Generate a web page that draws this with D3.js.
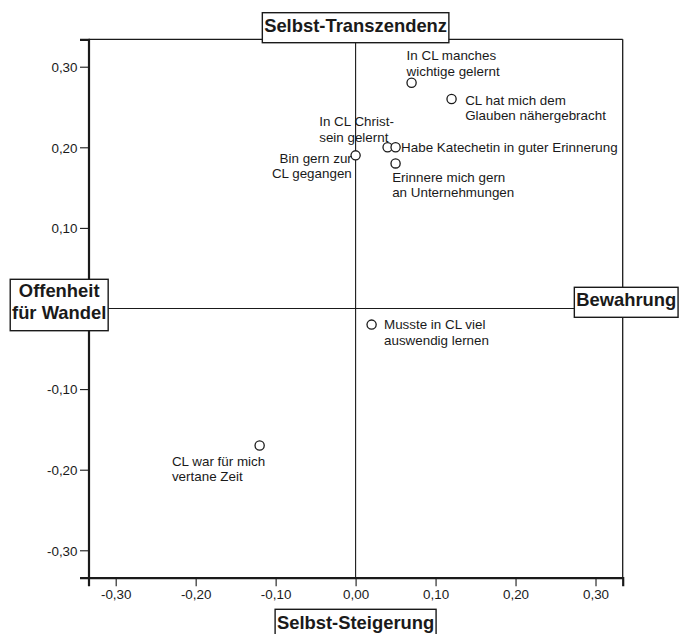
<!DOCTYPE html>
<html><head><meta charset="utf-8">
<script src="https://cdn.jsdelivr.net/npm/d3@7"></script>
<style>body{margin:0;background:#fff}svg{display:block}text{font-family:"Liberation Sans",Arial,sans-serif;fill:#1a1a1a}</style>
</head><body><svg id="c" width="679" height="634"></svg>
<script>
// ---- data ----
const itemLabels = [
  "In CL manches\nwichtige gelernt",
  "CL hat mich dem\nGlauben nähergebracht",
  "In CL Christ-\nsein gelernt",
  "Habe Katechetin in guter Erinnerung",
  "Bin gern zur\nCL gegangen",
  "Erinnere mich gern\nan Unternehmungen",
  "Musste in CL viel\nauswendig lernen",
  "CL war für mich\nvertane Zeit"
];
const xValues = [0.07, 0.12, 0.04, 0.05, 0.00, 0.05, 0.02, -0.12];
const yValues = [0.28, 0.26, 0.20, 0.20, 0.19, 0.18, -0.02, -0.17];
const tickValues = [-0.30, -0.20, -0.10, 0.00, 0.10, 0.20, 0.30];
const tickLabels = ["-0,30", "-0,20", "-0,10", "0,00", "0,10", "0,20", "0,30"];
// y tick at 0 is hidden behind the "Offenheit für Wandel" box in the original
const yTickValues = [-0.30, -0.20, -0.10, 0.10, 0.20, 0.30];
const poleTop = "Selbst-Transzendenz";
const poleBottom = "Selbst-Steigerung";
const poleLeft = ["Offenheit", "für Wandel"];
const poleRight = "Bewahrung";

// ---- layout (label placement relative to point) ----
const labelLayout = [
  {dx:-5, dy:-22.4, anchor:"start"},
  {dx:13.6, dy:6.3, anchor:"start"},
  {dx:-68.4, dy:-20.9, anchor:"start"},
  {dx:5.5, dy:4.2, anchor:"start"},
  {dx:-3.8, dy:7.6, anchor:"end"},
  {dx:-3.4, dy:18.7, anchor:"start"},
  {dx:12.4, dy:4.7, anchor:"start"},
  {dx:-87.7, dy:20.6, anchor:"start"}
];

const L = 88.5, R = 622.7, T = 39.3, B = 577.7;
const svg = d3.select("#c");
const x = d3.scaleLinear().domain([-0.334, 0.334]).range([L, R]);
const y = d3.scaleLinear().domain([-0.334, 0.334]).range([B, T]);
const ink = "#1a1a1a";
const fs = "13.4px";

// frame top/right
svg.append("line").attr("x1",L).attr("x2",R).attr("y1",T).attr("y2",T).attr("stroke",ink).attr("stroke-width",1.3);
svg.append("line").attr("x1",R).attr("x2",R).attr("y1",T).attr("y2",B).attr("stroke",ink).attr("stroke-width",1.3);

// reference lines
svg.append("line").attr("x1",x(0)).attr("x2",x(0)).attr("y1",T).attr("y2",B).attr("stroke",ink).attr("stroke-width",1.1);
svg.append("line").attr("x1",L).attr("x2",R).attr("y1",y(0)).attr("y2",y(0)).attr("stroke",ink).attr("stroke-width",1.1);

// axes
const fmt = d => tickLabels[tickValues.indexOf(d)];
const gx = svg.append("g").attr("transform",`translate(0,${B})`)
  .call(d3.axisBottom(x).tickValues(tickValues).tickFormat(fmt).tickSizeOuter(0).tickSize(8.5).tickPadding(3.5));
const gy = svg.append("g").attr("transform",`translate(${L},0)`)
  .call(d3.axisLeft(y).tickValues(yTickValues).tickFormat(fmt).tickSizeOuter(0).tickSize(8.5).tickPadding(2.5));
[gx, gy].forEach(g => {
  g.select(".domain").attr("stroke",ink).attr("stroke-width",2.2);
  g.selectAll(".tick line").attr("stroke",ink).attr("stroke-width",1.1);
  g.selectAll(".tick text").style("font-family",'"Liberation Sans",Arial,sans-serif').style("font-size",fs).attr("fill",ink);
});
gy.selectAll(".tick text").attr("dy","0.36em");

// points
const data = itemLabels.map((t,i)=>({t, x:xValues[i], y:yValues[i], lay:labelLayout[i]}));
svg.append("g").selectAll("circle").data(data).join("circle")
  .attr("cx",d=>x(d.x)).attr("cy",d=>y(d.y)).attr("r",4.6)
  .attr("fill","#fff").attr("stroke",ink).attr("stroke-width",1.3);

const lg = svg.append("g");
data.forEach(d => {
  const tx = lg.append("text").attr("x", x(d.x)+d.lay.dx).attr("y", y(d.y)+d.lay.dy)
    .attr("text-anchor", d.lay.anchor).style("font-size", fs);
  d.t.split("\n").forEach((line,j) => {
    tx.append("tspan").attr("x", x(d.x)+d.lay.dx).attr("dy", j===0?0:15.2).text(line);
  });
});

// pole boxes
function poleBox(lines, cx, top, h, baseOffsets, padX) {
  const g = svg.append("g");
  const rect = g.append("rect");
  const t = g.append("text").attr("text-anchor","middle").style("font-size","18.4px").style("font-weight","bold");
  lines.forEach((ln,j)=> t.append("tspan").attr("x",cx).attr("y",top+baseOffsets[j]).text(ln));
  const bb = t.node().getBBox();
  const w = bb.width + 2*padX;
  rect.attr("x", cx - w/2).attr("y", top).attr("width", w).attr("height", h)
    .attr("fill","#fff").attr("stroke",ink).attr("stroke-width",1.4);
}
poleBox([poleTop], x(0), 12.7, 30, [19.2], 1.8);
poleBox([poleBottom], x(0), 609.3, 30, [19.2], 1.8);
poleBox(poleLeft, 59.2, 279.3, 51.4, [17.6, 39.9], 1.8);
poleBox([poleRight], 626.2, 287.3, 30, [19.0], 1.8);
</script></body></html>
